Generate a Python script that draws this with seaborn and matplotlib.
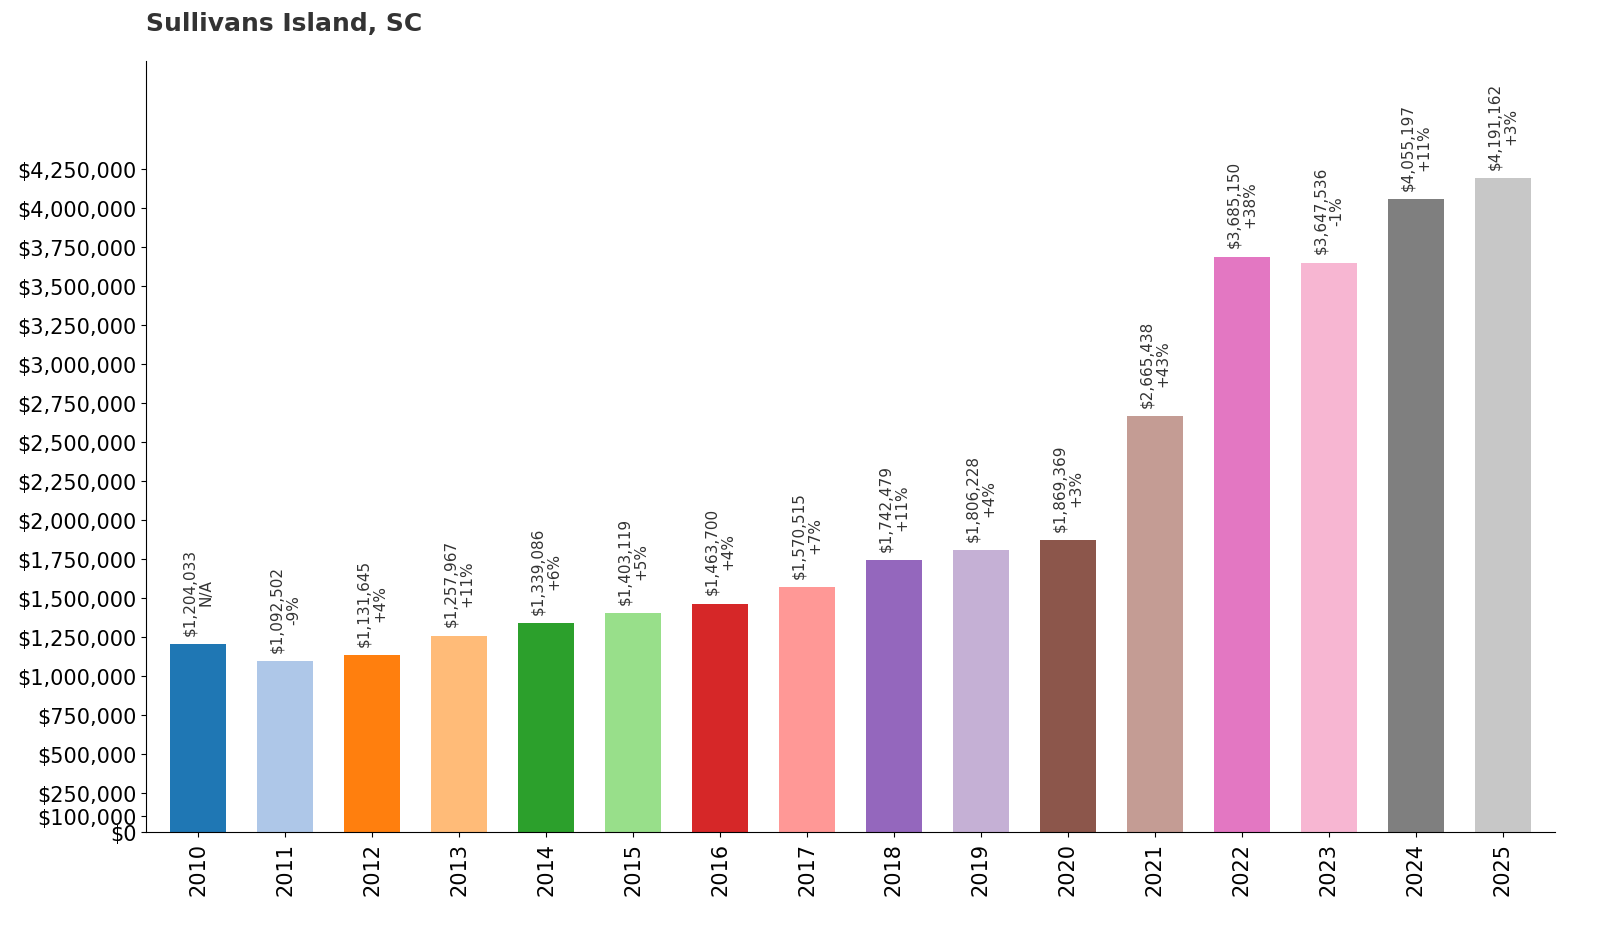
import matplotlib
matplotlib.use("Agg")
import matplotlib.pyplot as plt
import seaborn as sns
import pandas as pd

years = [str(y) for y in range(2010, 2026)]
values = [1204033, 1092502, 1131645, 1257967, 1339086, 1403119, 1463700, 1570515,
          1742479, 1806228, 1869369, 2665438, 3685150, 3647536, 4055197, 4191162]
changes = ["N/A", "-9%", "+4%", "+11%", "+6%", "+5%", "+4%", "+7%",
           "+11%", "+4%", "+3%", "+43%", "+38%", "-1%", "+11%", "+3%"]
yticks = [0, 100000] + list(range(250000, 4250001, 250000))

df = pd.DataFrame({"year": years, "value": values})
colors = sns.color_palette("tab20", 16)

fig = plt.figure(figsize=(16, 9.28), dpi=100)
ax = fig.add_axes([146 / 1600, 1 - 833 / 928, (1555 - 146) / 1600, (833 - 62) / 928])
sns.barplot(data=df, x="year", y="value", hue="year", palette=colors,
            width=0.65, legend=False, ax=ax, saturation=1)

for i, (v, c) in enumerate(zip(values, changes)):
    ax.text(i, v + 60000, f"${v:,}\n{c}", rotation=90, ha="center", va="bottom",
            fontsize=11, color="#333333", linespacing=1.1)

ax.set_xlim(-0.6, 15.6)
ax.set_ylim(0, 4940000)
ax.set_yticks(yticks)
ax.set_yticklabels([f"${t:,}" for t in yticks], fontsize=15)
ax.tick_params(axis="x", labelrotation=90, labelsize=15)
ax.set_xlabel("")
ax.set_ylabel("")
ax.spines["top"].set_visible(False)
ax.spines["right"].set_visible(False)
fig.text(146 / 1600, 1 - 24 / 928, "Sullivans Island, SC", fontsize=18,
         fontweight="bold", color="#333333", ha="left", va="center")

fig.savefig("out.png", dpi=100)
